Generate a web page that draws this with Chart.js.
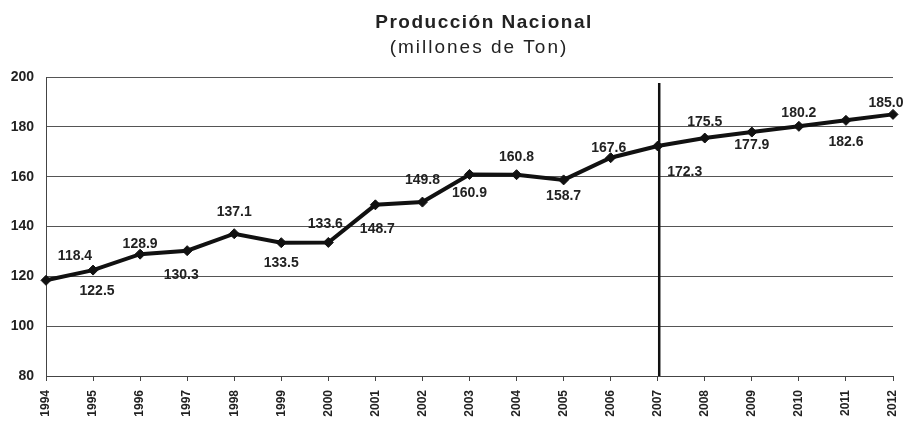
<!DOCTYPE html>
<html><head><meta charset="utf-8">
<script src="https://cdn.jsdelivr.net/npm/chart.js@4/dist/chart.umd.min.js"></script>
<style>html,body{margin:0;padding:0;background:#fff}</style>
</head><body>
<canvas id="c" width="905" height="421"></canvas>
<script>
const years = ['1994','1995','1996','1997','1998','1999','2000','2001','2002','2003','2004','2005','2006','2007','2008','2009','2010','2011','2012'];
const production = [118.4,122.5,128.9,130.3,137.1,133.5,133.6,148.7,149.8,160.9,160.8,158.7,167.6,172.3,175.5,177.9,180.2,182.6,185.0];
const yTicks = [80,100,120,140,160,180,200];
const markerYear = '2007';
const titleText = 'Producción Nacional';
const subtitleText = '(millones de Ton)';

// label placement relative to each point (dx, dy in px)
const labelShift = [[29,-24],[4,21],[0,-10],[-6,24],[0,-22],[0,20],[-3,-18],[2,24],[0,-22],[0,19],[0,-18],[0,16],[-2,-10],[27,26],[0,-16],[0,13],[0,-13],[0,22],[-7,-11]];

const FONT = 'Arial, "Liberation Sans", sans-serif';

const titlePlugin = {
  id: 'titles',
  afterDraw(chart) {
    const ctx = chart.ctx;
    ctx.save();
    ctx.fillStyle = '#222';
    ctx.textAlign = 'center';
    ctx.textBaseline = 'alphabetic';
    try { ctx.letterSpacing = '1.5px'; } catch (e) {}
    ctx.font = 'bold 19px ' + FONT;
    ctx.fillText(titleText, 484, 28);
    try { ctx.letterSpacing = '2px'; } catch (e) {}
    ctx.font = '19px ' + FONT;
    ctx.fillText(subtitleText, 479, 53);
    ctx.restore();
  }
};

const markerPlugin = {
  id: 'marker',
  beforeDatasetsDraw(chart) {
    const ctx = chart.ctx, x = chart.scales.x.getPixelForValue(years.indexOf(markerYear));
    const a = chart.chartArea;
    ctx.save();
    ctx.strokeStyle = '#111';
    ctx.lineWidth = 2.5;
    ctx.beginPath();
    ctx.moveTo(x + 1.5, a.top + 6);
    ctx.lineTo(x + 1.5, a.bottom);
    ctx.stroke();
    ctx.restore();
  }
};

const labelPlugin = {
  id: 'vlabels',
  afterDatasetsDraw(chart) {
    const ctx = chart.ctx, meta = chart.getDatasetMeta(0);
    ctx.save();
    ctx.font = 'bold 14px ' + FONT;
    ctx.fillStyle = '#222';
    ctx.textAlign = 'center';
    ctx.textBaseline = 'middle';
    meta.data.forEach((pt, i) => {
      const s = labelShift[i];
      ctx.fillText(production[i].toFixed(1), pt.x + s[0], pt.y + s[1]);
    });
    ctx.restore();
  }
};

new Chart(document.getElementById('c'), {
  type: 'line',
  data: {
    labels: years,
    datasets: [{
      data: production,
      borderColor: '#111',
      backgroundColor: '#111',
      borderWidth: 4,
      tension: 0,
      pointStyle: 'rectRot',
      pointRadius: 5,
      pointBorderWidth: 1,
      pointBackgroundColor: '#111',
      pointBorderColor: '#111'
    }]
  },
  options: {
    responsive: false,
    animation: false,
    devicePixelRatio: 1,
    layout: { padding: { top: 77, right: 12, left: 0, bottom: 0 } },
    plugins: { legend: { display: false }, tooltip: { enabled: false } },
    scales: {
      x: {
        type: 'category',
        offset: false,
        afterFit(scale) { scale.height = 45; scale.paddingRight = 0; scale.paddingLeft = 0; },
        grid: { drawOnChartArea: false, drawTicks: true, tickLength: 5, color: '#444', lineWidth: 1 },
        border: { display: true, color: '#444', width: 1 },
        ticks: {
          color: '#222', autoSkip: false, maxRotation: 90, minRotation: 90, padding: 9,
          font: { family: FONT, size: 12, weight: 'bold' }
        }
      },
      y: {
        min: 80, max: 200,
        afterFit(scale) { scale.width = 46; },
        afterBuildTicks(scale) { scale.ticks = yTicks.map(v => ({ value: v })); },
        grid: { drawTicks: false, color: '#555', lineWidth: 1 },
        border: { display: true, color: '#444', width: 1 },
        ticks: {
          color: '#222', padding: 12,
          font: { family: FONT, size: 14, weight: 'bold' }
        }
      }
    }
  },
  plugins: [markerPlugin, labelPlugin, titlePlugin]
});
</script>
</body></html>
